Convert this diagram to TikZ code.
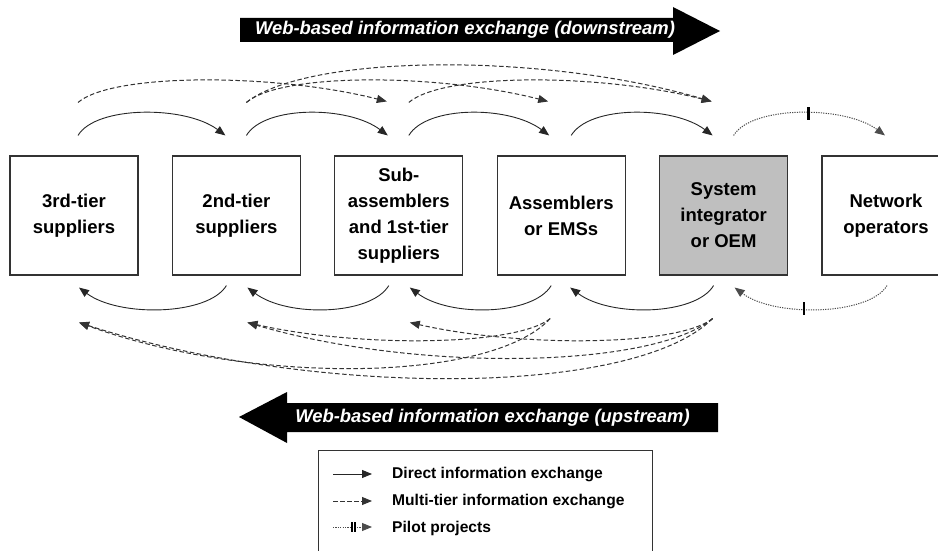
\documentclass[tikz,border=0pt]{standalone}
\usepackage{fontspec}
\setmainfont{Liberation Sans}
\usetikzlibrary{arrows.meta,calc}

\begin{document}
\begin{tikzpicture}[x=1pt,y=1pt,
  box/.style={draw=black!80, line width=1.1pt, minimum width=128pt, minimum height=119pt,
    align=center, inner sep=0pt, font=\bfseries\fontsize{18.5}{26}\selectfont},
  tip/.style={-{Triangle[length=10pt,width=8pt]}},
  direct/.style={tip, line width=0.9pt, draw=black!85},
  multi/.style={tip, line width=1pt, draw=black!80, dash pattern=on 4.5pt off 2.5pt},
  pilot/.style={tip, line width=1pt, draw=black!70, dash pattern=on 1.2pt off 1.2pt},
  tickmark/.style={fill=black, inner sep=0pt, minimum width=2.2pt, minimum height=13pt},
  smalltick/.style={fill=black, inner sep=0pt, minimum width=1.1pt, minimum height=10pt},
  bannertext/.style={text=white, inner sep=0pt, font=\bfseries\itshape\fontsize{18.4}{20}\selectfont},
  legendtext/.style={anchor=base west, inner sep=0pt, font=\bfseries\fontsize{15.6}{17}\selectfont},
]
\useasboundingbox (0,0) rectangle (938,550);
\clip (0,0) rectangle (938,550);

% supply chain tiers
\node[box] (b1) at (74,334.5) {3rd-tier\\suppliers};
\node[box] (b2) at (236.4,334.5) {2nd-tier\\suppliers};
\node[box] (b3) at (398.8,334.5) {Sub-\\assemblers\\and 1st-tier\\suppliers};
\node[box] (b4) at (561.2,334.5) {Assemblers\\or EMSs};
\node[box, fill=black!25] (b5) at (723.6,334.5) {System\\integrator\\or OEM};
\node[box] (b6) at (886,334.5) {Network\\operators};

% direct exchange, downstream
\draw[direct] ($(b1.north)+(4,20)$) .. controls +(18,30) and +(-40,30) .. ($(b2.north)+(-11,20)$);
\draw[direct] ($(b2.north)+(10,20)$) .. controls +(18,30) and +(-40,30) .. ($(b3.north)+(-11,20)$);
\draw[direct] ($(b3.north)+(10,20)$) .. controls +(18,30) and +(-40,30) .. ($(b4.north)+(-12,20)$);
\draw[direct] ($(b4.north)+(10,20)$) .. controls +(18,30) and +(-40,30) .. ($(b5.north)+(-11,20)$);
\draw[pilot] ($(b5.north)+(10,20)$) .. controls +(18,30) and +(-40,30) .. ($(b6.north)+(-1,20)$)
  node[tickmark, pos=0.54] (tk1) {};

% direct exchange, upstream
\draw[direct] ($(b2.south)+(-10,-10)$) .. controls +(-18,-30) and +(40,-30) .. ($(b1.south)+(5,-12)$);
\draw[direct] ($(b3.south)+(-10,-10)$) .. controls +(-18,-30) and +(40,-30) .. ($(b2.south)+(11,-12)$);
\draw[direct] ($(b4.south)+(-10,-10)$) .. controls +(-18,-30) and +(40,-30) .. ($(b3.south)+(11,-12)$);
\draw[direct] ($(b5.south)+(-10,-10)$) .. controls +(-18,-30) and +(40,-30) .. ($(b4.south)+(9,-12)$);
\draw[pilot] ($(b6.south)+(1,-10)$) .. controls +(-18,-30) and +(40,-30) .. ($(b5.south)+(11,-12)$)
  node[tickmark, pos=0.58] (tk2) {};

% multi-tier exchange, downstream
\draw[multi] ($(b1.north)+(4,53)$) .. controls +(35,30) and +(-110,28) .. ($(b3.north)+(-12,54)$);
\draw[multi] ($(b2.north)+(10,53)$) .. controls +(60,48) and +(-170,50) .. ($(b5.north)+(-12,54)$);
\draw[multi] ($(b2.north)+(10,53)$) .. controls +(35,30) and +(-110,28) .. ($(b4.north)+(-13,54)$);
\draw[multi] ($(b3.north)+(10,53)$) .. controls +(35,30) and +(-110,28) .. ($(b5.north)+(-12,54)$);

% multi-tier exchange, upstream
\draw[multi] ($(b4.south)+(-11,-43)$) .. controls +(-35,-28) and +(110,-25) .. ($(b2.south)+(11,-47)$);
\draw[multi] ($(b5.south)+(-11,-43)$) .. controls +(-35,-28) and +(110,-25) .. ($(b3.south)+(11,-47)$);
\draw[multi] ($(b5.south)+(-11,-43)$) .. controls +(-60,-50) and +(170,-50) .. ($(b2.south)+(11,-47)$);
\draw[multi] ($(b4.south)+(-11,-43)$) .. controls +(-60,-65) and +(170,-62) .. ($(b1.south)+(5,-47)$);
\draw[multi] ($(b5.south)+(-11,-43)$) .. controls +(-80,-80) and +(230,-74) .. ($(b1.south)+(5,-47)$);

% banner arrows
\fill (240,532) -- (673,532) -- (673,543) -- (720,519) -- (673,495) -- (673,508) -- (240,508) -- cycle;
\node[bannertext] (down) at (465,520) {Web-based information exchange (downstream)};
\fill (718,147) -- (287,147) -- (287,158) -- (239,133) -- (287,107) -- (287,118) -- (718,118) -- cycle;
\node[bannertext] (up) at (492.5,132.5) {Web-based information exchange (upstream)};

% legend
\node[draw=black!80, line width=1pt, minimum width=334pt, minimum height=120pt,
  anchor=north west, inner sep=0pt] (legend) at (318,100) {};
\coordinate (l1a) at (333,76); \coordinate (l1b) at (372,76);
\coordinate (l2a) at (333,49); \coordinate (l2b) at (372,49);
\coordinate (l3a) at (333,23); \coordinate (l3b) at (372,23);
\draw[direct] (l1a) -- (l1b);
\draw[multi] (l2a) -- (l2b);
\draw[pilot] (l3a) -- (l3b);
\node[smalltick] (lt1) at (352,23) {};
\node[smalltick] (lt2) at (355,23) {};
\node[legendtext] (t1) at (392,72) {Direct information exchange};
\node[legendtext] (t2) at (392,45) {Multi-tier information exchange};
\node[legendtext] (t3) at (392,18) {Pilot projects};
\end{tikzpicture}
\end{document}
